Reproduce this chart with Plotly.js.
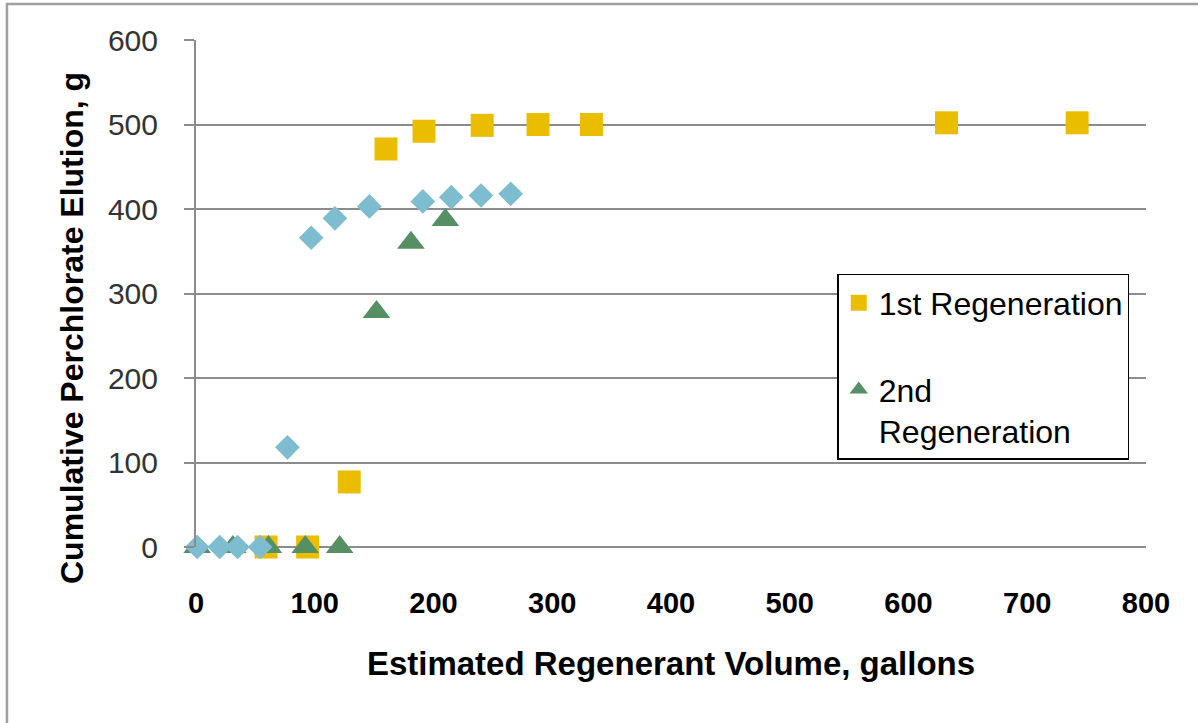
<!DOCTYPE html>
<html>
<head>
<meta charset="utf-8">
<script src="https://cdn.plot.ly/plotly-3.0.1.min.js"></script>
<style>
  html, body { margin: 0; padding: 0; background: #fff; }
  #chart { width: 1198px; height: 723px; }
</style>
</head>
<body>
<div id="chart"></div>
<script>
// 1st Regeneration (squares)
const firstRegenVolume = [59, 94, 129, 160, 192, 241, 288, 333, 632, 742];
const firstRegenElution = [0, 0, 77, 471, 492, 499, 500, 500, 502, 502];

// 2nd Regeneration (triangles)
const secondRegenVolume = [1, 31, 61, 92, 121, 152, 181, 210];
const secondRegenElution = [0, 0, 0, 0, 0, 278, 360, 387];

// Unlabelled series (diamonds)
const thirdSeriesVolume = [1, 20, 35, 54, 77, 97, 117, 146, 191, 215, 240, 265];
const thirdSeriesElution = [0, 0, 0, 0, 118, 366, 389, 403, 409, 414, 416, 418];

const xTicks = [0, 100, 200, 300, 400, 500, 600, 700, 800];
const yTicks = [0, 100, 200, 300, 400, 500, 600];

const FONT = 'Liberation Sans, Arial, Helvetica, sans-serif';
const GRID = '#8c8c8c';

const traces = [
  {
    type: 'scatter', mode: 'markers', name: '1st Regeneration',
    x: firstRegenVolume, y: firstRegenElution,
    legendgroup: 'a',
    marker: { symbol: 'square', size: 23, color: '#EABD00', line: { width: 0 } },
    cliponaxis: false
  },
  {
    type: 'scatter', mode: 'markers', name: '2nd<br>Regeneration',
    x: secondRegenVolume, y: secondRegenElution,
    legendgroup: 'b',
    marker: { symbol: 'triangle-up', size: 24, color: '#578F65', line: { width: 0 } },
    cliponaxis: false
  },
  {
    type: 'scatter', mode: 'markers', name: 'Series 3',
    x: thirdSeriesVolume, y: thirdSeriesElution,
    showlegend: false,
    marker: { symbol: 'diamond', size: 19, color: '#7DBDCF', line: { width: 0 } },
    cliponaxis: false
  }
];

const layout = {
  width: 1198, height: 723,
  margin: { l: 196, r: 52, t: 40, b: 176 },
  paper_bgcolor: '#ffffff', plot_bgcolor: '#ffffff',
  font: { family: FONT, color: '#000' },
  showlegend: true,
  legend: {
    x: 0.675, y: 0.5385, xanchor: 'left', yanchor: 'top',
    bgcolor: '#ffffff', bordercolor: '#000000', borderwidth: 1.5,
    font: { family: FONT, size: 32, color: '#000' },
    traceorder: 'grouped', tracegroupgap: 42, valign: 'top',
    itemwidth: 30
  },
  xaxis: {
    range: [0, 800], tickvals: xTicks, ticktext: xTicks.map(String),
    showgrid: false, zeroline: false,
    showline: false, ticks: '',
    ticklabelstandoff: 36,
    tickfont: { family: FONT, size: 29, color: '#000', weight: 'bold' },
    title: { text: 'Estimated Regenerant Volume, gallons', standoff: 33,
             font: { family: FONT, size: 33, color: '#000', weight: 'bold' } }
  },
  yaxis: {
    range: [0, 600], tickvals: yTicks, ticktext: yTicks.map(String),
    showgrid: true, gridcolor: GRID, gridwidth: 2,
    zeroline: true, zerolinecolor: GRID, zerolinewidth: 2,
    showline: true, linecolor: GRID, linewidth: 2,
    ticks: 'outside', ticklen: 10, tickcolor: GRID, tickwidth: 2,
    ticklabelstandoff: 20,
    tickfont: { family: FONT, size: 30, color: '#333' }
  },
  annotations: [
    { text: 'Cumulative Perchlorate Elution, g', xref: 'paper', yref: 'paper',
      x: -0.1305, y: 0.432, xanchor: 'center', yanchor: 'middle',
      textangle: -90, showarrow: false,
      font: { family: FONT, size: 32, color: '#000', weight: 'bold' } }
  ],
  shapes: [
    { type: 'rect', xref: 'paper', yref: 'paper',
      x0: -0.199, x1: 1.5, y0: -1, y1: 1.071,
      line: { color: '#a0a0a0', width: 2.5 }, fillcolor: 'rgba(0,0,0,0)', layer: 'below' }
  ]
};

Plotly.newPlot('chart', traces, layout, { displayModeBar: false, staticPlot: true });
</script>
</body>
</html>
